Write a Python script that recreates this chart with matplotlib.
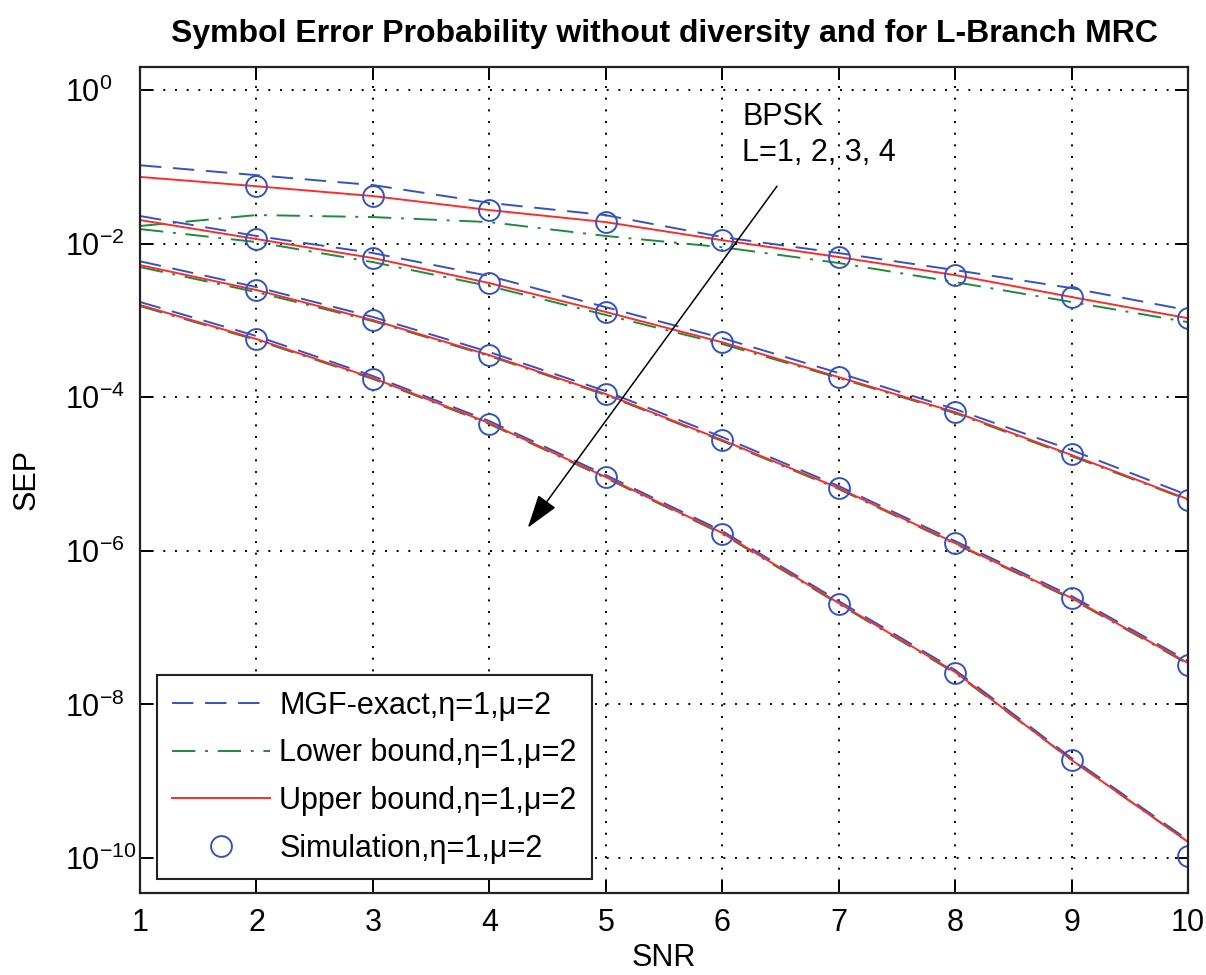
import matplotlib
matplotlib.use("Agg")
import matplotlib.pyplot as plt

plt.rcParams['font.family'] = ['Liberation Sans', 'DejaVu Sans']
plt.rcParams['mathtext.default'] = 'regular'

snr = [1, 2, 3, 4, 5, 6, 7, 8, 9, 10]
snr_sim = [2, 3, 4, 5, 6, 7, 8, 9, 10]

# MGF-exact SEP, one list per number of branches L
mgf_exact = {
    1: [1.05e-1, 7.8e-2, 5.8e-2, 3.4e-2, 2.35e-2, 1.22e-2, 7.55e-3, 4.53e-3, 2.64e-3, 1.36e-3],
    2: [2.29e-2, 1.26e-2, 7.55e-3, 3.79e-3, 1.49e-3, 5.9e-4, 2.07e-4, 7.0e-5, 2.05e-5, 5.3e-6],
    3: [5.9e-3, 2.72e-3, 1.11e-3, 3.88e-4, 1.2e-4, 3.03e-5, 6.98e-6, 1.34e-6, 2.58e-7, 3.67e-8],
    4: [1.74e-3, 6.27e-4, 1.89e-4, 4.9e-5, 9.7e-6, 1.81e-6, 2.22e-7, 2.8e-8, 2.0e-9, 1.71e-10],
}
lower_bound = {
    1: [1.70e-2, 2.36e-2, 2.22e-2, 1.91e-2, 1.26e-2, 9.0e-3, 5.6e-3, 3.16e-3, 1.74e-3, 9.5e-4],
    2: [1.55e-2, 1.05e-2, 5.75e-3, 2.8e-3, 1.18e-3, 4.93e-4, 1.78e-4, 6.2e-5, 1.71e-5, 4.6e-6],
    3: [4.96e-3, 2.34e-3, 9.8e-4, 3.44e-4, 1.07e-4, 2.69e-5, 6.38e-6, 1.23e-6, 2.36e-7, 3.36e-8],
    4: [1.54e-3, 5.56e-4, 1.73e-4, 4.48e-5, 8.87e-6, 1.66e-6, 2.03e-7, 2.56e-8, 1.89e-9, 1.62e-10],
}
upper_bound = {
    1: [7.4e-2, 5.6e-2, 4.17e-2, 2.74e-2, 1.91e-2, 1.11e-2, 6.7e-3, 3.9e-3, 2.02e-3, 1.07e-3],
    2: [2.03e-2, 1.15e-2, 6.5e-3, 3.07e-3, 1.29e-3, 5.2e-4, 1.83e-4, 6.4e-5, 1.77e-5, 4.7e-6],
    3: [5.26e-3, 2.49e-3, 1.01e-3, 3.54e-4, 1.10e-4, 2.77e-5, 6.57e-6, 1.26e-6, 2.43e-7, 3.46e-8],
    4: [1.59e-3, 5.73e-4, 1.78e-4, 4.61e-5, 9.14e-6, 1.71e-6, 2.09e-7, 2.64e-8, 1.89e-9, 1.62e-10],
}
simulation = {
    1: [5.6e-2, 4.17e-2, 2.74e-2, 1.91e-2, 1.11e-2, 6.7e-3, 3.9e-3, 2.02e-3, 1.07e-3],
    2: [1.15e-2, 6.5e-3, 3.07e-3, 1.29e-3, 5.2e-4, 1.83e-4, 6.4e-5, 1.8e-5, 4.6e-6],
    3: [2.49e-3, 1.01e-3, 3.54e-4, 1.10e-4, 2.77e-5, 6.57e-6, 1.26e-6, 2.43e-7, 3.26e-8],
    4: [5.73e-4, 1.73e-4, 4.48e-5, 9.14e-6, 1.66e-6, 2.03e-7, 2.56e-8, 1.89e-9, 1.06e-10],
}

labels = ['MGF-exact,η=1,μ=2', 'Lower bound,η=1,μ=2',
          'Upper bound,η=1,μ=2', 'Simulation,η=1,μ=2']
yticks = [1e0, 1e-2, 1e-4, 1e-6, 1e-8, 1e-10]
ytick_labels = ['$10^{0}$', '$10^{-2}$', '$10^{-4}$', '$10^{-6}$', '$10^{-8}$', '$10^{-10}$']

blue = '#3352c4'
green = '#1e8a3c'
red = '#ff2b2b'

fig = plt.figure(figsize=(12.06, 9.75), dpi=100)
ax = fig.add_axes([0.1161, 0.0841, 0.8690, 0.8472])

for L in [1, 2, 3, 4]:
    first = (L == 1)
    ax.semilogy(snr, mgf_exact[L], color=blue, lw=1.4, dashes=(11, 6),
                label=labels[0] if first else None)
    ax.semilogy(snr, lower_bound[L], color=green, lw=1.4, dashes=(12, 5, 1.5, 5),
                label=labels[1] if first else None)
    ax.semilogy(snr, upper_bound[L], color=red, lw=1.4,
                label=labels[2] if first else None)
    ax.semilogy(snr_sim, simulation[L], 'o', color=blue, mfc='none', ms=15, mew=1.4,
                label=labels[3] if first else None)

ax.set_xlim(1, 10)
ax.set_ylim(3.5e-11, 2)
ax.set_xticks(snr)
ax.set_yticks(yticks)
ax.set_yticklabels(ytick_labels)
ax.minorticks_off()
ax.grid(True, color='black', ls=(0, (1, 5)), lw=1.4)

ax.tick_params(which='both', direction='in', top=True, right=True,
               length=9.5, width=1.4, labelsize=22)
ax.tick_params(axis='x', pad=11)
ax.tick_params(axis='y', pad=54)
for t in ax.get_yticklabels():
    t.set_ha('left')
for s in ax.spines.values():
    s.set_linewidth(1.6)
    s.set_color('#222222')

ax.set_xlabel('SNR', fontsize=22)
ax.set_ylabel('SEP', fontsize=22)
ax.xaxis.set_label_coords(0.5, -0.061)
ax.yaxis.set_label_coords(-0.094, 0.5)
ax.set_title('Symbol Error Probability without diversity and for L-Branch MRC',
             fontsize=23, fontweight='bold', pad=18)

ax.text(6.17, 0.70, 'BPSK\nL=1, 2, 3, 4', fontsize=22, va='top', ha='left',
        linespacing=1.25)
ax.annotate('', xy=(4.33, 2.0e-6), xytext=(6.47, 0.056),
            arrowprops=dict(arrowstyle='-|>,head_length=1.4,head_width=0.45',
                            mutation_scale=15, color='black', lw=1.1,
                            shrinkA=0, shrinkB=0))

leg = ax.legend(loc='lower left', bbox_to_anchor=(0.0162, 0.017), borderaxespad=0,
                fontsize=22, handlelength=3.2, handletextpad=0.3, borderpad=0.5,
                labelspacing=0.58, numpoints=1, fancybox=False, framealpha=1)
leg.get_frame().set_edgecolor('#222222')
leg.get_frame().set_linewidth(1.5)

fig.savefig('out.png', dpi=100)
